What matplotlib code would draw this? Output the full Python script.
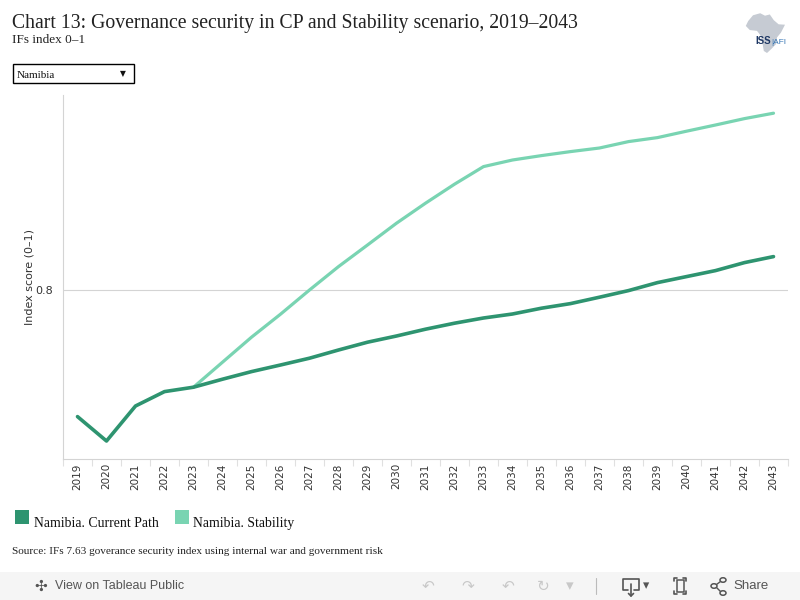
import matplotlib.pyplot as plt
from matplotlib.patches import Rectangle, Polygon, Circle
import numpy as np

years = list(range(2019, 2044))
current_path = [0.7367, 0.7245, 0.7420, 0.7492, 0.7514, 0.7554, 0.7592, 0.7625,
                0.7659, 0.7700, 0.7739, 0.7770, 0.7804, 0.7834, 0.7860, 0.7880,
                0.7909, 0.7932, 0.7964, 0.7997, 0.8037, 0.8067, 0.8097, 0.8137,
                0.8167]
stability_years = list(range(2023, 2044))
stability = [0.7514, 0.7639, 0.7764, 0.7879, 0.8000, 0.8117, 0.8225, 0.8334,
             0.8434, 0.8529, 0.8617, 0.8650, 0.8672, 0.8692, 0.8710, 0.8742,
             0.8762, 0.8794, 0.8825, 0.8857, 0.8884]
y_ticks = [0.8]

cp_color = '#2e9470'
st_color = '#79d4b2'
W, H = 800, 600

fig = plt.figure(figsize=(8, 6), dpi=100)
fig.patch.set_facecolor('white')

def fx(px):
    return px / W

def fy(py):
    return 1 - py / H

def fline(xs, ys, color='#555555', lw=1.2):
    fig.lines.append(plt.Line2D([fx(v) for v in xs], [fy(v) for v in ys],
                                transform=fig.transFigure, color=color, linewidth=lw,
                                solid_capstyle='round'))

ax = fig.add_axes([fx(63), fy(459), fx(788) - fx(63), fy(95) - fy(459)])
ax.plot(years, current_path, color=cp_color, linewidth=2.6, solid_capstyle='round',
        solid_joinstyle='round', zorder=3)
ax.plot(stability_years, stability, color=st_color, linewidth=2.3, solid_capstyle='round',
        solid_joinstyle='round', zorder=2)

ax.set_xlim(2018.5, 2043.5)
ax.set_ylim(0.7155, 0.8975)
ax.set_xticks(years)
ax.set_xticklabels([str(y) for y in years], rotation=90, fontsize=7.5,
                   family='DejaVu Sans', color='#333333')
ax.set_xticks(np.arange(2018.5, 2044, 1), minor=True)
ax.tick_params(axis='x', which='major', length=0, pad=3)
ax.tick_params(axis='x', which='minor', length=5, color='#e0e0e0', width=0.8)
ax.set_yticks(y_ticks)
ax.set_yticklabels(['0.8'], fontsize=8, color='#333333')
ax.tick_params(axis='y', length=0, pad=7)
ax.grid(axis='y', color='#d4d4d4', linewidth=0.8)
ax.set_axisbelow(True)
for s in ['top', 'right']:
    ax.spines[s].set_visible(False)
ax.spines['left'].set_color('#d4d4d4')
ax.spines['bottom'].set_color('#d4d4d4')
ax.set_ylabel('Index score (0\u20131)', fontsize=8, color='#333333', labelpad=1)

# title block
serif = ['Liberation Serif', 'DejaVu Serif']
fig.text(fx(12), fy(28), 'Chart 13: Governance security in CP and Stability scenario, 2019\u20132043',
         family=serif, fontsize=14.2, color='#222222')
fig.text(fx(12), fy(43), 'IFs index 0\u20131', family=serif, fontsize=9.5, color='#222222')

# dropdown
fig.patches.append(Rectangle((fx(12.5), fy(83)), fx(121), fy(64) - fy(83), transform=fig.transFigure,
                             facecolor='white', edgecolor='black', linewidth=1))
fig.text(fx(17), fy(77.5), 'Namibia', family=serif, fontsize=8, color='#111111')
fig.text(fx(123), fy(74), '\u25bc', fontsize=5.5, color='#111111', ha='center', va='center')

# logo
logo = fig.add_axes([fx(745), fy(53), fx(40), fy(12) - fy(53)])
logo.set_xlim(0, 1)
logo.set_ylim(0, 1)
logo.axis('off')
africa = [(0.08, 0.78), (0.20, 0.92), (0.38, 0.97), (0.50, 0.91), (0.62, 0.94), (0.72, 0.80),
          (0.84, 0.70), (1.0, 0.69), (0.90, 0.50), (0.80, 0.38), (0.78, 0.22), (0.66, 0.10),
          (0.55, 0.0), (0.47, 0.05), (0.43, 0.28), (0.38, 0.44), (0.30, 0.54), (0.12, 0.56),
          (0.02, 0.66)]
logo.add_patch(Polygon(africa, closed=True, facecolor='#c6cbd3', edgecolor='none'))
fig.text(fx(755), fy(44), 'ISS', fontsize=7, color='#1f3864', family='Liberation Sans', weight='bold')
fig.text(fx(771), fy(44), '|AFI', fontsize=6, color='#3a78b5', family='Liberation Sans')

# legend
fig.patches.append(Rectangle((fx(15), fy(524)), fx(14), fy(510) - fy(524), transform=fig.transFigure,
                             facecolor=cp_color, edgecolor='none'))
fig.text(fx(34), fy(527), 'Namibia. Current Path', family=serif, fontsize=9.9, color='#111111')
fig.patches.append(Rectangle((fx(175), fy(524)), fx(14), fy(510) - fy(524), transform=fig.transFigure,
                             facecolor=st_color, edgecolor='none'))
fig.text(fx(193), fy(527), 'Namibia. Stability', family=serif, fontsize=9.9, color='#111111')

fig.text(fx(12), fy(554), 'Source: IFs 7.63 goverance security index using internal war and government risk',
         family=serif, fontsize=8.1, color='#222222')

# toolbar
fig.patches.append(Rectangle((0, 0), 1, fy(572), transform=fig.transFigure,
                             facecolor='#f5f5f5', edgecolor='none'))
fig.text(fx(41), fy(586), '\u2723', fontsize=11, color='#555555', ha='center', va='center')
fig.text(fx(55), fy(586), 'View on Tableau Public', fontsize=9, color='#555555', va='center',
         family='Liberation Sans')
for xp, g in [(428, '\u21b6'), (468, '\u21b7'), (508, '\u21b6'), (543, '\u21bb'), (570, '\u25be')]:
    fig.text(fx(xp), fy(586), g, fontsize=11, color='#c8c8c8', ha='center', va='center')
fline([596, 596], [578, 594], color='#bbbbbb', lw=0.8)

# download icon
fline([628, 623, 623, 639, 639, 634], [590, 590, 579, 579, 590, 590])
fline([631, 631], [584, 596])
fline([628.5, 631, 633.5], [593.5, 596, 593.5])
fig.text(fx(646), fy(586), '\u25be', fontsize=9, color='#555555', ha='center', va='center')
# fullscreen icon
fline([674, 674, 677], [581, 578, 578])
fline([683, 686, 686], [578, 578, 581])
fline([686, 686, 683], [591, 594, 594])
fline([677, 674, 674], [594, 594, 591])
fig.patches.append(Rectangle((fx(676.5), fy(592)), fx(7), fy(580) - fy(592), transform=fig.transFigure,
                             facecolor='none', edgecolor='#555555', linewidth=1.1))
# share icon
for cx, cy in [(714, 586), (723, 580), (723, 593)]:
    fig.patches.append(Circle((fx(cx), fy(cy)), 3.0 / W, transform=fig.transFigure,
                              facecolor='none', edgecolor='#555555', linewidth=1.1))
fline([716.5, 720.5], [584.5, 581.5], lw=1)
fline([716.5, 720.5], [587.5, 591.5], lw=1)
fig.text(fx(733), fy(586), 'Share', fontsize=9.5, color='#555555', va='center', family='Liberation Sans')

fig.savefig('out.png', dpi=100)
